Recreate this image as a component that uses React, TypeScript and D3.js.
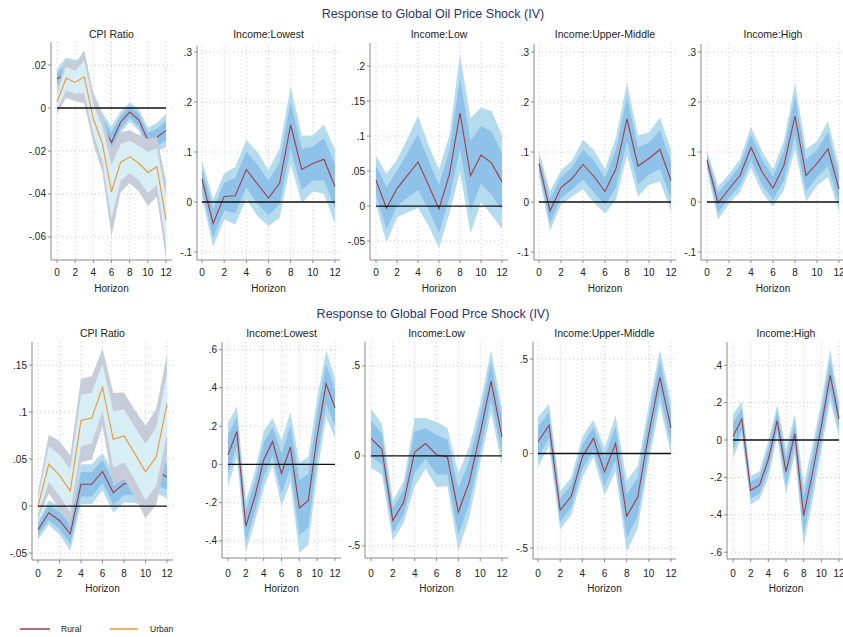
import React from 'react';
import * as d3 from 'd3';

const horizon = [0, 1, 2, 3, 4, 5, 6, 7, 8, 9, 10, 11, 12];
const xTicks = [0, 2, 4, 6, 8, 10, 12];

// oil price shock: point estimates and standard errors
const oilCpiRuralEst = [0.0135, 0.016, 0.015, 0.014, 0.0005, -0.008, -0.016, -0.0066, -0.0019, -0.0055, -0.015, -0.0136, -0.0105];
const oilCpiRuralSe = [0.0027, 0.0045, 0.0045, 0.005, 0.004, 0.0035, 0.0045, 0.003, 0.0027, 0.003, 0.0035, 0.004, 0.0047];
const oilCpiUrbanEst = [0.0028, 0.0138, 0.0119, 0.0145, -0.005, -0.0167, -0.039, -0.0253, -0.0227, -0.0256, -0.03, -0.0273, -0.052];
const oilCpiUrbanSe = [0.0035, 0.0055, 0.0053, 0.0075, 0.007, 0.008, 0.0125, 0.0085, 0.0075, 0.008, 0.0095, 0.0085, 0.011];
const oilLowestEst = [0.046, -0.043, 0.011, 0.0125, 0.065, 0.036, 0.008, 0.0375, 0.154, 0.065, 0.077, 0.0855, 0.031];
const oilLowestSe = [0.022, 0.029, 0.028, 0.035, 0.036, 0.039, 0.034, 0.042, 0.047, 0.041, 0.034, 0.042, 0.045];
const oilLowEst = [0.037, -0.003, 0.025, 0.044, 0.063, 0.03, -0.004, 0.046, 0.133, 0.0435, 0.073, 0.0617, 0.0346];
const oilLowSe = [0.021, 0.03, 0.025, 0.032, 0.04, 0.035, 0.034, 0.034, 0.051, 0.05, 0.041, 0.045, 0.041];
const oilUpperMidEst = [0.077, -0.018, 0.029, 0.047, 0.075, 0.051, 0.021, 0.067, 0.166, 0.072, 0.087, 0.105, 0.043];
const oilUpperMidSe = [0.014, 0.024, 0.021, 0.022, 0.03, 0.032, 0.027, 0.038, 0.044, 0.037, 0.032, 0.039, 0.037];
const oilHighEst = [0.0835, -0.002, 0.026, 0.053, 0.109, 0.0605, 0.0276, 0.0737, 0.172, 0.053, 0.077, 0.106, 0.026];
const oilHighSe = [0.012, 0.02, 0.018, 0.02, 0.025, 0.025, 0.023, 0.03, 0.04, 0.032, 0.027, 0.034, 0.027];

// food price shock
const foodCpiRuralEst = [-0.0254, -0.0071, -0.0154, -0.0296, 0.0232, 0.0232, 0.0368, 0.0143, 0.0236, 0.025, 0.02, 0.037, 0.031];
const foodCpiRuralSe = [0.006, 0.008, 0.009, 0.011, 0.013, 0.013, 0.012, 0.013, 0.012, 0.013, 0.013, 0.014, 0.014];
const foodCpiUrbanEst = [0.0, 0.0446, 0.0329, 0.016, 0.091, 0.0936, 0.1264, 0.071, 0.0746, 0.056, 0.0364, 0.0525, 0.1086];
const foodCpiUrbanSe = [0.009, 0.019, 0.022, 0.023, 0.027, 0.027, 0.025, 0.03, 0.028, 0.028, 0.03, 0.031, 0.032];
const foodLowestEst = [0.05, 0.172, -0.324, -0.172, 0.023, 0.12, -0.048, 0.09, -0.228, -0.19, 0.147, 0.421, 0.296];
const foodLowestSe = [0.1, 0.08, 0.08, 0.08, 0.09, 0.075, 0.105, 0.11, 0.143, 0.14, 0.12, 0.105, 0.095];
const foodLowEst = [0.097, 0.037, -0.359, -0.256, 0.022, 0.069, 0.007, -0.006, -0.312, -0.145, 0.125, 0.416, 0.106];
const foodLowSe = [0.1, 0.085, 0.068, 0.07, 0.115, 0.085, 0.11, 0.098, 0.13, 0.12, 0.1, 0.105, 0.097];
const foodUpperMidEst = [0.062, 0.15, -0.3, -0.226, -0.018, 0.08, -0.097, 0.053, -0.332, -0.23, 0.106, 0.403, 0.136];
const foodUpperMidSe = [0.08, 0.068, 0.062, 0.06, 0.065, 0.06, 0.075, 0.09, 0.115, 0.1, 0.09, 0.088, 0.085];
const foodHighEst = [0.019, 0.112, -0.269, -0.241, -0.104, 0.104, -0.17, 0.034, -0.405, -0.175, 0.073, 0.347, 0.112];
const foodHighSe = [0.072, 0.056, 0.046, 0.045, 0.06, 0.051, 0.075, 0.064, 0.1, 0.09, 0.08, 0.085, 0.055];

const FONT = '"Liberation Sans", Arial, Helvetica, sans-serif';
const styles = {
  rural: { outer: '#b4dbee', inner: '#8fc2e8', line: '#a03d45' },
  urban: { outer: '#c7ccd9', inner: '#d8eef5', line: '#e9993a' },
};

type Series = { est: number[]; se: number[]; kind: 'rural' | 'urban' };
type PanelSpec = {
  title: string;
  x0: number; x12: number; axisX: number;
  top: number; bottom: number;
  yDomain: [number, number];
  yTicks: number[];
  series: Series[];
};
type Row = { heading: string; headingY: number; titleY: number; tickY: number; horizonY: number; panels: PanelSpec[] };

const single = (est: number[], se: number[]): Series[] => [{ est, se, kind: 'rural' }];

const rows: Row[] = [
  {
    heading: 'Response to Global Oil Price Shock (IV)', headingY: 18, titleY: 38, tickY: 276, horizonY: 292,
    panels: [
      { title: 'CPI Ratio', x0: 57, x12: 166, axisX: 51, top: 42, bottom: 260, yDomain: [-0.0707, 0.0307], yTicks: [-0.06, -0.04, -0.02, 0, 0.02],
        series: [{ est: oilCpiRuralEst, se: oilCpiRuralSe, kind: 'rural' }, { est: oilCpiUrbanEst, se: oilCpiUrbanSe, kind: 'urban' }] },
      { title: 'Income:Lowest', x0: 202, x12: 335, axisX: 197, top: 46, bottom: 260, yDomain: [-0.116, 0.312], yTicks: [-0.1, 0, 0.1, 0.2, 0.3], series: single(oilLowestEst, oilLowestSe) },
      { title: 'Income:Low', x0: 376, x12: 502, axisX: 370, top: 43, bottom: 260, yDomain: [-0.077, 0.233], yTicks: [-0.05, 0, 0.05, 0.1, 0.15, 0.2], series: single(oilLowEst, oilLowSe) },
      { title: 'Income:Upper-Middle', x0: 539, x12: 671, axisX: 534, top: 44, bottom: 260, yDomain: [-0.116, 0.316], yTicks: [-0.1, 0, 0.1, 0.2, 0.3], series: single(oilUpperMidEst, oilUpperMidSe) },
      { title: 'Income:High', x0: 707, x12: 839, axisX: 701, top: 44, bottom: 260, yDomain: [-0.116, 0.316], yTicks: [-0.1, 0, 0.1, 0.2, 0.3], series: single(oilHighEst, oilHighSe) },
    ],
  },
  {
    heading: 'Response to Global Food Prce Shock (IV)', headingY: 318, titleY: 337, tickY: 577, horizonY: 592,
    panels: [
      { title: 'CPI Ratio', x0: 38, x12: 167, axisX: 32, top: 342, bottom: 560, yDomain: [-0.0574, 0.1745], yTicks: [-0.05, 0, 0.05, 0.1, 0.15],
        series: [{ est: foodCpiRuralEst, se: foodCpiRuralSe, kind: 'rural' }, { est: foodCpiUrbanEst, se: foodCpiUrbanSe, kind: 'urban' }] },
      { title: 'Income:Lowest', x0: 228, x12: 335, axisX: 222, top: 342, bottom: 558, yDomain: [-0.49, 0.64], yTicks: [-0.4, -0.2, 0, 0.2, 0.4, 0.6], series: single(foodLowestEst, foodLowestSe) },
      { title: 'Income:Low', x0: 371, x12: 502, axisX: 365, top: 342, bottom: 558, yDomain: [-0.567, 0.633], yTicks: [-0.5, 0, 0.5], series: single(foodLowEst, foodLowSe) },
      { title: 'Income:Upper-Middle', x0: 538, x12: 671, axisX: 533, top: 342, bottom: 559, yDomain: [-0.558, 0.59], yTicks: [-0.5, 0, 0.5], series: single(foodUpperMidEst, foodUpperMidSe) },
      { title: 'Income:High', x0: 733, x12: 839, axisX: 727, top: 342, bottom: 559, yDomain: [-0.636, 0.524], yTicks: [-0.6, -0.4, -0.2, 0, 0.2, 0.4], series: single(foodHighEst, foodHighSe) },
    ],
  },
];

// stata style labels: .02, -.05, 0
const fmt = (v: number) => (v === 0 ? '0' : String(+v.toFixed(3)).replace(/^(-?)0\./, '$1.'));

function Panel({ p, row, id }: { p: PanelSpec; row: Row; id: string }) {
  const x = d3.scaleLinear().domain([0, 12]).range([p.x0, p.x12]);
  const y = d3.scaleLinear().domain(p.yDomain).range([p.bottom, p.top]);
  const right = p.x12 + (p.x0 - p.axisX);
  const band = (s: Series, z: number) =>
    d3.area<number>()
      .x((_, i) => x(horizon[i]))
      .y0((d, i) => y(d - z * s.se[i]))
      .y1((d, i) => y(d + z * s.se[i]))(s.est) || '';
  const line = d3.line<number>().x((_, i) => x(horizon[i])).y((d) => y(d));

  return (
    <g>
      <defs>
        <clipPath id={id}>
          <rect x={p.axisX} y={p.top} width={right - p.axisX} height={p.bottom - p.top} />
        </clipPath>
      </defs>
      {/* dotted grid */}
      {p.yTicks.map((t) => (
        <line key={'gy' + t} x1={p.axisX} x2={right} y1={y(t)} y2={y(t)} stroke="#b8bcc4" strokeWidth={0.8} strokeDasharray="1,3" />
      ))}
      {xTicks.map((t) => (
        <line key={'gx' + t} x1={x(t)} x2={x(t)} y1={p.top} y2={p.bottom} stroke="#b8bcc4" strokeWidth={0.8} strokeDasharray="1,3" />
      ))}
      <g clipPath={`url(#${id})`}>
        {p.series.map((s, k) => (
          <g key={k}>
            <path d={band(s, 1.645)} fill={styles[s.kind].outer} />
            <path d={band(s, 1)} fill={styles[s.kind].inner} />
            <path d={line(s.est) || ''} fill="none" stroke={styles[s.kind].line} strokeWidth={1.1} />
          </g>
        ))}
      </g>
      <line x1={x(0)} x2={x(12)} y1={y(0)} y2={y(0)} stroke="#111" strokeWidth={1.3} />
      {/* axes */}
      <line x1={p.axisX} x2={p.axisX} y1={p.top} y2={p.bottom} stroke="#8a8a8a" strokeWidth={1} />
      <line x1={p.axisX} x2={right} y1={p.bottom} y2={p.bottom} stroke="#8a8a8a" strokeWidth={1} />
      {p.yTicks.map((t) => (
        <g key={'ty' + t}>
          <line x1={p.axisX - 3} x2={p.axisX} y1={y(t)} y2={y(t)} stroke="#8a8a8a" />
          <text x={p.axisX - 5} y={y(t)} dy="0.35em" textAnchor="end" fontSize={10} fontFamily={FONT} fill="#222">{fmt(t)}</text>
        </g>
      ))}
      {xTicks.map((t) => (
        <g key={'tx' + t}>
          <line x1={x(t)} x2={x(t)} y1={p.bottom} y2={p.bottom + 3} stroke="#8a8a8a" />
          <text x={x(t)} y={row.tickY} textAnchor="middle" fontSize={10} fontFamily={FONT} fill="#222">{t}</text>
        </g>
      ))}
      <text x={(p.axisX + right) / 2} y={row.horizonY} textAnchor="middle" fontSize={10} fontFamily={FONT} fill="#222">Horizon</text>
      <text x={(p.axisX + right) / 2} y={row.titleY} textAnchor="middle" fontSize={10.5} fontFamily={FONT} fill="#222">{p.title}</text>
    </g>
  );
}

function Legend() {
  const items = [
    { label: 'Rural', color: styles.rural.line, x1: 20, x2: 50, tx: 61 },
    { label: 'Urban', color: styles.urban.line, x1: 110, x2: 138, tx: 150 },
  ];
  return (
    <g>
      {items.map((it) => (
        <g key={it.label}>
          <line x1={it.x1} x2={it.x2} y1={629} y2={629} stroke={it.color} strokeWidth={1.5} />
          <text x={it.tx} y={632} fontSize={8.5} fontFamily={FONT} fill="#222">{it.label}</text>
        </g>
      ))}
    </g>
  );
}

export default function App() {
  return (
    <svg width={843} height={637} style={{ position: 'absolute', left: 0, top: 0, background: '#fff' }}>
      {rows.map((row, r) => (
        <g key={r}>
          <text x={433} y={row.headingY} textAnchor="middle" fontSize={12.5} fontFamily={FONT} fill="#27346f">{row.heading}</text>
          {row.panels.map((p, i) => (
            <Panel key={i} p={p} row={row} id={`clip-${r}-${i}`} />
          ))}
        </g>
      ))}
      <Legend />
    </svg>
  );
}
